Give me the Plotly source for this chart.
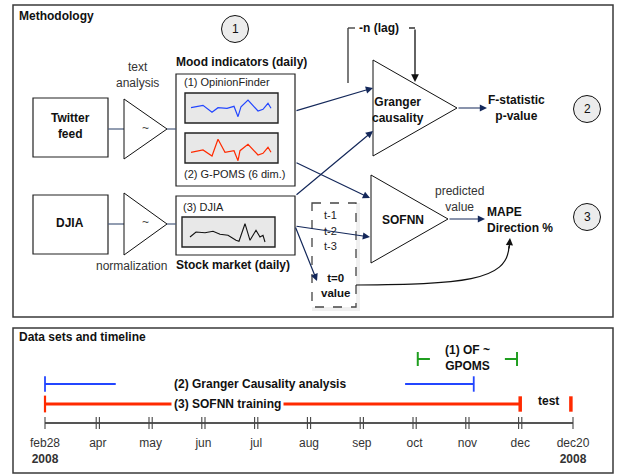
import plotly.graph_objects as go

# ---------------- data ----------------
# sparkline values (local units inside each little chart box)
of_x = [6, 18, 27, 33, 42, 49, 53, 56, 63, 73, 78, 83, 86]
of_y = [15.3, 17.7, 10.7, 15.3, 14.7, 16.7, 6.3, 16.3, 23.0, 12.0, 13.7, 19.7, 14.7]
gpoms_x = [6, 18, 27, 33, 40, 49, 53, 55, 63, 73, 78, 83, 86]
gpoms_y = [10.7, 13.0, 7.0, 23.7, 10.7, 12.3, 2.3, 12.3, 18.7, 8.0, 9.7, 15.7, 10.7]
djia_x = [8, 14, 23, 31, 38, 46, 54, 57, 63, 68, 74, 78, 81, 83]
djia_y = [10.0, 15.0, 14.3, 15.7, 12.7, 11.7, 6.7, 5.7, 23.3, 6.7, 16.7, 10.0, 11.7, 5.0]

# timeline (evenly spaced schematic month positions)
months = ["feb28", "apr", "may", "jun", "jul", "aug", "sep", "oct", "nov", "dec", "dec20"]
year_label = "2008"
granger_periods = [[0.0, 1.34], [6.82, 8.12]]
sofnn_training = [0.0, 9.0]
test_period = [9.0, 9.96]
of_gpoms_period = [7.06, 8.94]

# ---------------- styling ----------------
W, H = 618, 475
FONT = "Liberation Sans, Arial, Helvetica, sans-serif"
NAVY = "#14285a"
SLATE = "#4a5d7e"
DARK = "#3a3a3a"
RED = "#ff2a00"
BLUE = "#2346ff"
GREEN = "#1f9e1f"
BS = 12      # bold label size
RS = 12      # regular label size
SS = 11      # small label size

shapes = []
ann = []


def rect(x0, y0, x1, y1, line=DARK, width=1.5, fill="rgba(0,0,0,0)", dash=None, layer="below"):
    shapes.append(dict(type="rect", xref="x", yref="y", x0=x0, y0=y0, x1=x1, y1=y1,
                       line=dict(color=line, width=width, dash=dash), fillcolor=fill, layer=layer))


def seg(x0, y0, x1, y1, color=SLATE, width=1.2, xref="x"):
    shapes.append(dict(type="line", xref=xref, yref="y", x0=x0, y0=y0, x1=x1, y1=y1,
                       line=dict(color=color, width=width), layer="above"))


def tri(xl, yt, yb, xa, ya):
    shapes.append(dict(type="path", xref="x", yref="y",
                       path=f"M {xl},{yt} L {xa},{ya} L {xl},{yb} Z",
                       line=dict(color="#111", width=1), fillcolor="white", layer="above"))


def arrow(x0, y0, x1, y1, color=NAVY, width=1.2):
    ann.append(dict(x=x1, y=y1, ax=x0, ay=y0, xref="x", yref="y", axref="x", ayref="y",
                    text="", showarrow=True, arrowhead=2, arrowsize=1.2, arrowwidth=width,
                    arrowcolor=color, standoff=0, startstandoff=0))


def text(x, y, t, size=RS, bold=False, xanchor="center", color="#111", align="center",
         xref="x", bg="rgba(0,0,0,0)"):
    ann.append(dict(x=x, y=y, xref=xref, yref="y", text=f"<b>{t}</b>" if bold else t,
                    showarrow=False, font=dict(family=FONT, size=size, color=color),
                    xanchor=xanchor, yanchor="middle", align=align, bgcolor=bg, borderpad=1))


def circle(cx, cy, r, label):
    shapes.append(dict(type="circle", xref="x", yref="y", x0=cx - r, x1=cx + r, y0=cy - r, y1=cy + r,
                       line=dict(color="#111", width=1), fillcolor="#ececec", layer="above"))
    text(cx, cy, label, size=12, color="#111")


# ---------------- methodology panel ----------------
rect(13, 5, 613, 317, line=DARK, width=1.5, fill="white")
text(17, 16, "Methodology", size=BS, bold=True, xanchor="left")
circle(235, 29, 13.5, "1")

# inputs
rect(33, 98, 108, 157, line="#222", width=1.2, fill="white")
text(70, 126, "Twitter<br>feed", size=BS, bold=True)
rect(33, 195, 108, 254, line="#222", width=1.2, fill="white")
text(70, 223, "DJIA", size=BS, bold=True)

# connector lines + filter triangles
seg(108, 129, 124, 129)
seg(108, 224, 124, 224)
tri(124, 99, 159, 167, 129)
tri(124, 193, 255, 167, 224)
seg(167, 129, 176, 129)
seg(167, 224, 176, 224)
text(145, 128, "~", size=12, color="#444")
text(145, 222, "~", size=12, color="#444")
text(137, 75, "text<br>analysis", size=RS, color="#333")
text(131, 266, "normalization", size=RS, color="#333")

# mood indicators box
text(174, 62, "Mood indicators (daily)", size=BS, bold=True, xanchor="left")
rect(176, 74, 295, 186, line="#222", width=1.2, fill="white")
text(182, 82, "(1) OpinionFinder", size=SS, color="#222", xanchor="left")
rect(185, 93, 278, 123, line="#222", width=1.4, fill="#e8e8e8")
rect(185, 133, 278, 163, line="#222", width=1.4, fill="#e8e8e8")
text(182, 174, "(2) G-POMS (6 dim.)", size=SS, color="#222", xanchor="left")

# stock market box
rect(176, 196, 295, 255, line="#222", width=1.2, fill="white")
text(181, 207, "(3) DJIA", size=SS, color="#222", xanchor="left")
rect(182, 217, 275, 247, line="#222", width=1.4, fill="#e8e8e8")
text(174, 265, "Stock market (daily)", size=BS, bold=True, xanchor="left")

# dashed lag box
rect(314, 205, 358, 309, line="rgba(0,0,0,0.06)", width=4, fill="white")
rect(312, 203, 356, 307, line="#444", width=1.3, dash="dash", fill="white")
text(330, 215, "t-1", size=SS, color="#222")
text(330, 231, "t-2", size=SS, color="#222")
text(330, 246, "t-3", size=SS, color="#222")
text(335, 285, "t=0<br>value", size=11.5, bold=True)

# Granger triangle
tri(373, 60, 156, 457, 108)
text(398, 110, "Granger<br>causality", size=BS, bold=True)
# lag bracket
seg(348, 83, 348, 28, color="#444", width=1.4)
seg(348, 28, 355, 28, color="#444", width=1.4)
seg(409, 28, 415, 28, color="#222", width=1.4)
arrow(415, 28, 415, 82, color="#111", width=1.3)
text(379, 28, "-n (lag)", size=BS, bold=True)

# Granger output
arrow(457, 108, 487, 108)
text(516, 108, "F-statistic<br>p-value", size=BS, bold=True)
circle(587, 109, 13.5, "2")

# SOFNN triangle
tri(371, 175, 263, 448, 219)
text(403, 220, "SOFNN", size=BS, bold=True)
arrow(448, 219, 485, 219)
text(459, 199, "predicted<br>value", size=RS, color="#333")
text(485, 220, "MAPE<br>Direction %", size=BS, bold=True, xanchor="left", align="left")
circle(587, 217, 13.5, "3")

# arrows between blocks
arrow(295, 111, 373, 88)
arrow(295, 196, 373, 131)
arrow(295, 162, 370, 198)
arrow(295, 226, 370, 237)
arrow(295, 226, 317, 281)

# curve from t=0 value to MAPE
shapes.append(dict(type="path", xref="x", yref="y", path="M 356,285 C 460,284 508,282 509,246",
                   line=dict(color="#111", width=1.2), layer="above"))
arrow(509, 250, 510, 238, color="#111", width=1.2)

# ---------------- timeline panel ----------------
rect(13, 328, 613, 473, line=DARK, width=1.5, fill="white")
text(17, 337, "Data sets and timeline", size=BS, bold=True, xanchor="left")

AXIS_Y = 423
Y_GREEN, Y_BLUE, Y_RED = 359, 384, 404

# double month ticks
for i in range(len(months)):
    offs = [0] if i in (0, len(months) - 1) else [-1.6, 1.6]
    for o in offs:
        shapes.append(dict(type="line", xref="x2", yref="y", xsizemode="pixel", xanchor=i,
                           x0=o, x1=o, y0=AXIS_Y - 6, y1=AXIS_Y + 6,
                           line=dict(color="#444", width=1.1), layer="above"))

ann.append(dict(x=3.45, y=Y_RED, xref="x2", yref="y", text="<b>(3) SOFNN training</b>",
                showarrow=False, font=dict(family=FONT, size=BS, color="#111"),
                bgcolor="white", borderpad=2, xanchor="center", yanchor="middle"))
text(4.07, Y_BLUE, "(2) Granger Causality analysis", size=BS, bold=True, xref="x2")
text(9.53, 401, "test", size=BS, bold=True, xref="x2")
text(8.01, 358, "(1) OF ~<br>GPOMS", size=BS, bold=True, xref="x2")

traces = []
# axis line
traces.append(go.Scatter(x=[0, len(months) - 1], y=[AXIS_Y, AXIS_Y], xaxis="x2", yaxis="y",
                         mode="lines", line=dict(color="#555", width=1.8)))
# SOFNN training + test
traces.append(go.Scatter(x=sofnn_training, y=[Y_RED, Y_RED], xaxis="x2", yaxis="y",
                         mode="lines", line=dict(color=RED, width=2.8)))
traces.append(go.Scatter(x=[sofnn_training[0]], y=[Y_RED], xaxis="x2", yaxis="y", mode="markers",
                         marker=dict(symbol="line-ns", size=12, line=dict(color=RED, width=2.2))))
traces.append(go.Scatter(x=test_period, y=[Y_RED, Y_RED], xaxis="x2", yaxis="y", mode="markers",
                         marker=dict(symbol="line-ns", size=11, line=dict(color=RED, width=3.5))))
# Granger periods
for k, (a, b) in enumerate(granger_periods):
    traces.append(go.Scatter(x=[a, b], y=[Y_BLUE, Y_BLUE], xaxis="x2", yaxis="y",
                             mode="lines", line=dict(color=BLUE, width=2.2)))
traces.append(go.Scatter(x=[granger_periods[0][0], granger_periods[1][1]], y=[Y_BLUE, Y_BLUE],
                         xaxis="x2", yaxis="y", mode="markers",
                         marker=dict(symbol="line-ns", size=11, line=dict(color=BLUE, width=1.8))))
# OF ~ GPOMS period (bracket ends)
g0, g1 = of_gpoms_period
traces.append(go.Scatter(x=[g0, g0 + 0.23], y=[Y_GREEN, Y_GREEN], xaxis="x2", yaxis="y",
                         mode="lines", line=dict(color=GREEN, width=2)))
traces.append(go.Scatter(x=[g1 - 0.23, g1], y=[Y_GREEN, Y_GREEN], xaxis="x2", yaxis="y",
                         mode="lines", line=dict(color=GREEN, width=2)))
traces.append(go.Scatter(x=[g0, g1], y=[Y_GREEN, Y_GREEN], xaxis="x2", yaxis="y", mode="markers",
                         marker=dict(symbol="line-ns", size=10, line=dict(color=GREEN, width=2))))

# sparklines on their own little axes
traces.append(go.Scatter(x=of_x, y=of_y, xaxis="x3", yaxis="y3", mode="lines",
                         line=dict(color=BLUE, width=1.2)))
traces.append(go.Scatter(x=gpoms_x, y=gpoms_y, xaxis="x4", yaxis="y4", mode="lines",
                         line=dict(color=RED, width=1.2)))
traces.append(go.Scatter(x=djia_x, y=djia_y, xaxis="x5", yaxis="y5", mode="lines",
                         line=dict(color="#111", width=1.1)))

fig = go.Figure(traces)


def dom_x(a, b):
    return [a / W, b / W]


def dom_y(top, bottom):
    return [1 - bottom / H, 1 - top / H]


hidden = dict(visible=False, showgrid=False, zeroline=False, fixedrange=True)
px_per = 52.8
x0px = 45
tick_text = [m if i not in (0, len(months) - 1) else f"{m}<br><b>{year_label}</b>"
             for i, m in enumerate(months)]

fig.update_layout(
    width=W, height=H, margin=dict(l=0, r=0, t=0, b=0),
    paper_bgcolor="white", plot_bgcolor="rgba(0,0,0,0)",
    showlegend=False, hovermode=False,
    font=dict(family=FONT, size=11, color="#111"),
    xaxis=dict(range=[0, W], domain=[0, 1], **hidden),
    yaxis=dict(range=[H, 0], domain=[0, 1], **hidden),
    xaxis2=dict(overlaying="x", anchor="free", position=1 - AXIS_Y / H,
                range=[-x0px / px_per, (W - x0px) / px_per],
                showgrid=False, zeroline=False, showline=False, ticks="",
                tickmode="array", tickvals=list(range(len(months))), ticktext=tick_text,
                tickfont=dict(family=FONT, size=12, color="#333"), ticklabelstandoff=11,
                fixedrange=True),
    xaxis3=dict(domain=dom_x(185, 278), range=[0, 93], anchor="y3", **hidden),
    yaxis3=dict(domain=dom_y(93, 123), range=[0, 30], anchor="x3", **hidden),
    xaxis4=dict(domain=dom_x(185, 278), range=[0, 93], anchor="y4", **hidden),
    yaxis4=dict(domain=dom_y(133, 163), range=[0, 30], anchor="x4", **hidden),
    xaxis5=dict(domain=dom_x(182, 275), range=[0, 93], anchor="y5", **hidden),
    yaxis5=dict(domain=dom_y(217, 247), range=[0, 30], anchor="x5", **hidden),
    shapes=shapes, annotations=ann,
)

fig.write_html("out.html", config={"displayModeBar": False},
               post_script="document.body.style.margin='0';document.body.style.overflow='hidden';")
